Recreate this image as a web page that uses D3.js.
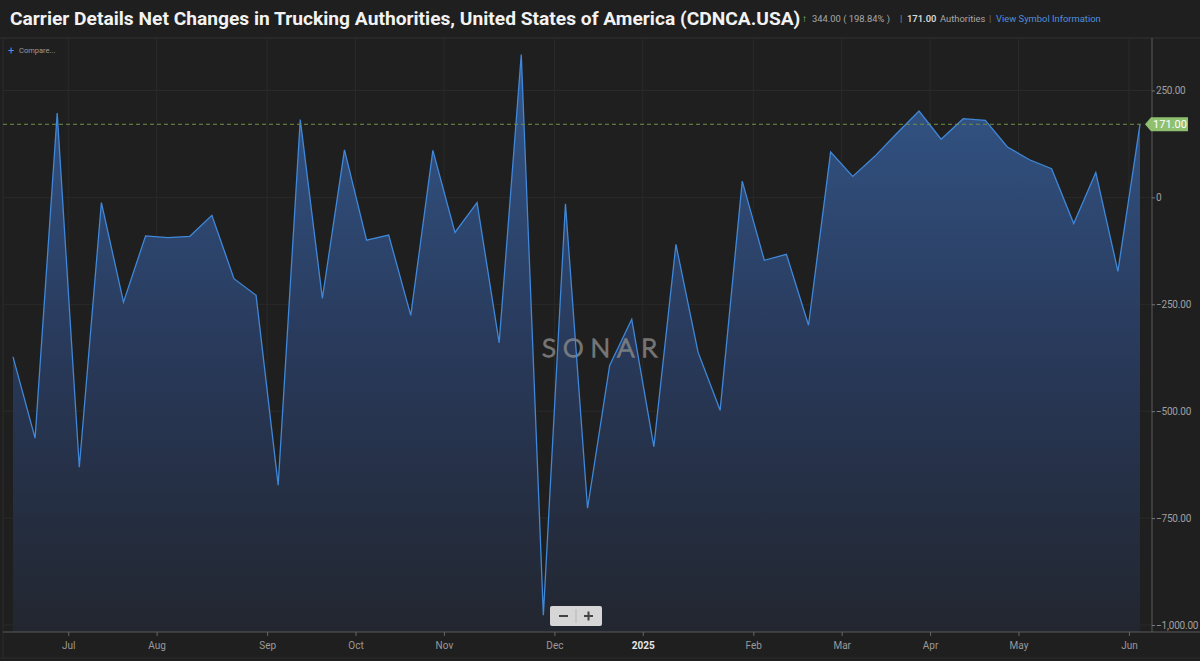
<!DOCTYPE html>
<html>
<head>
<meta charset="utf-8">
<script src="https://cdn.jsdelivr.net/npm/d3@7"></script>
<style>
  html, body { margin: 0; padding: 0; background: #1f1f1f; }
  svg { display: block; }
  text { font-family: Roboto, "Noto Sans", sans-serif; }
</style>
</head>
<body>
<div id="chart"></div>
<script>
const widthChart = 1200;
const heightChart = 661;

// weekly observations (Fridays)
const dates = [
  "2024-06-14", "2024-06-21", "2024-06-28", "2024-07-05", "2024-07-12", "2024-07-19", "2024-07-26",
  "2024-08-02", "2024-08-09", "2024-08-16", "2024-08-23", "2024-08-30", "2024-09-06", "2024-09-13",
  "2024-09-20", "2024-09-27", "2024-10-04", "2024-10-11", "2024-10-18", "2024-10-25", "2024-11-01",
  "2024-11-08", "2024-11-15", "2024-11-22", "2024-11-29", "2024-12-06", "2024-12-13", "2024-12-20",
  "2024-12-27", "2025-01-03", "2025-01-10", "2025-01-17", "2025-01-24", "2025-01-31", "2025-02-07",
  "2025-02-14", "2025-02-21", "2025-02-28", "2025-03-07", "2025-03-14", "2025-03-21", "2025-03-28",
  "2025-04-04", "2025-04-11", "2025-04-18", "2025-04-25", "2025-05-02", "2025-05-09", "2025-05-16",
  "2025-05-23", "2025-05-30", "2025-06-06"
];

// net changes in authorities
const values = [
  -373, -563, 197, -631, -12, -245, -90, -94, -91, -42, -190, -229, -673, 182,
  -236, 111, -100, -88, -276, 110, -82, -12, -340, 334, -977, -15, -727, -393,
  -285, -583, -110, -362, -498, 38, -147, -133, -299, 106, 49, 96, 150, 202,
  136, 184, 180, 118, 88, 67, -61, 58, -173, 171
];

const yTicks = [-1000, -750, -500, -250, 0, 250];

const title = "Carrier Details Net Changes in Trucking Authorities, United States of America (CDNCA.USA)";
const changeText = "344.00 ( 198.84% )";
const lastText = "171.00";
const unitText = "Authorities";
const linkText = "View Symbol Information";

const plotLeft = 3, plotRight = 1152, plotTop = 38, plotBottom = 632;

const parse = d3.timeParse("%Y-%m-%d");
const data = dates.map((d, i) => ({ date: parse(d), value: values[i], i: i }));

const x = d3.scaleLinear()
    .domain([0, data.length - 1])
    .range([13, 1140]);

const y = d3.scaleLinear()
    .domain([-1000, 250])
    .range([625, 90.5]);

// month ticks sit half a step before the first week of each month
var monthTicks = [];
data.forEach((d, i) => {
    if (i > 0 && d.date.getMonth() !== data[i - 1].date.getMonth()) {
        monthTicks.push({ pos: i - 0.5, date: d.date });
    }
});

const svg = d3.select("#chart")
    .append("svg")
    .attr("width", widthChart)
    .attr("height", heightChart);

svg.append("rect")
    .attr("width", widthChart)
    .attr("height", heightChart)
    .attr("fill", "#1f1f1f");

// header
svg.append("text")
    .attr("x", 10)
    .attr("y", 25)
    .attr("fill", "#f2f2f2")
    .style("font-size", "19.2px")
    .style("font-weight", "700")
    .text(title);

const header = svg.append("g").style("font-size", "9.4px");
header.append("text").attr("x", 802).attr("y", 22).attr("fill", "#7ecb6a")
    .style("font-size", "10px").style("font-weight", "700").text("\u2191");
header.append("text").attr("x", 812).attr("y", 22).attr("fill", "#a8a8a8").text(changeText);
header.append("text").attr("x", 900).attr("y", 22).attr("fill", "#8a8a8a").text("|");
header.append("text").attr("x", 907).attr("y", 22).attr("fill", "#d8d8d8")
    .style("font-weight", "600").text(lastText);
header.append("text").attr("x", 940).attr("y", 22).attr("fill", "#a8a8a8").text(unitText);
header.append("text").attr("x", 989).attr("y", 22).attr("fill", "#6a6a6a").text("|");
header.append("text").attr("x", 996).attr("y", 22).attr("fill", "#4f8fdc").text(linkText);

// frame lines
svg.append("line").attr("x1", 0).attr("x2", widthChart).attr("y1", plotTop).attr("y2", plotTop)
    .attr("stroke", "#333");
svg.append("line").attr("x1", plotLeft).attr("x2", plotLeft).attr("y1", plotTop).attr("y2", heightChart - 3)
    .attr("stroke", "#2c2c2c");
svg.append("line").attr("x1", 0).attr("x2", widthChart).attr("y1", heightChart - 3).attr("y2", heightChart - 3)
    .attr("stroke", "#2c2c2c");

// grid
const grid = svg.append("g");
grid.selectAll(".hg")
    .data(yTicks)
    .enter()
    .append("line")
    .attr("x1", plotLeft)
    .attr("x2", plotRight)
    .attr("y1", d => y(d))
    .attr("y2", d => y(d))
    .attr("stroke", "#2a2a2a");
grid.selectAll(".vg")
    .data(monthTicks)
    .enter()
    .append("line")
    .attr("x1", d => x(d.pos))
    .attr("x2", d => x(d.pos))
    .attr("y1", plotTop)
    .attr("y2", plotBottom)
    .attr("stroke", "#2a2a2a");

// area gradient
const defs = svg.append("defs");
const grad = defs.append("linearGradient")
    .attr("id", "areaGrad")
    .attr("gradientUnits", "userSpaceOnUse")
    .attr("x1", 0).attr("x2", 0)
    .attr("y1", plotTop).attr("y2", plotBottom);
grad.append("stop").attr("offset", "0%").attr("stop-color", "#34598d");
grad.append("stop").attr("offset", "55%").attr("stop-color", "#283858");
grad.append("stop").attr("offset", "100%").attr("stop-color", "#22262f");

const area = d3.area()
    .x(d => x(d.i))
    .y0(plotBottom)
    .y1(d => y(d.value));

const line = d3.line()
    .x(d => x(d.i))
    .y(d => y(d.value));

svg.append("path")
    .datum(data)
    .attr("d", area)
    .attr("fill", "url(#areaGrad)");

// watermark
svg.append("text")
    .attr("x", 603)
    .attr("y", 357)
    .attr("text-anchor", "middle")
    .attr("fill", "none")
    .attr("stroke", "#8a8a8a")
    .attr("stroke-width", 1.5)
    .attr("opacity", 0.8)
    .style("font-family", "Lato, sans-serif")
    .style("font-size", "26px")
    .style("font-weight", "300")
    .style("letter-spacing", "7px")
    .text("SONAR");

svg.append("path")
    .datum(data)
    .attr("d", line)
    .attr("fill", "none")
    .attr("stroke", "#3f87d9")
    .attr("stroke-width", 1.3);

// last value dashed line
const last = data[data.length - 1];
svg.append("line")
    .attr("x1", plotLeft)
    .attr("x2", plotRight - 8)
    .attr("y1", y(last.value))
    .attr("y2", y(last.value))
    .attr("stroke", "#718f45")
    .attr("stroke-dasharray", "4,3");

// y axis
svg.append("line")
    .attr("x1", plotRight).attr("x2", plotRight)
    .attr("y1", plotTop).attr("y2", plotBottom)
    .attr("stroke", "#5a5a5a");

const fmt = d3.format(",.2f");
const yAxis = svg.append("g")
    .attr("transform", "translate(" + plotRight + ",0)")
    .call(d3.axisRight(y).tickValues(yTicks).tickSize(3).tickPadding(1)
        .tickFormat(d => d === 0 ? "0" : fmt(d)));
yAxis.select(".domain").remove();
yAxis.selectAll("line").attr("stroke", "#777");
yAxis.selectAll("text")
    .attr("fill", "#a0a0a0")
    .style("font-size", "10px")
    .style("letter-spacing", "-0.2px")
    .style("font-family", "Roboto, sans-serif");

// last value label
const ly = y(last.value);
svg.append("path")
    .attr("d", "M1145," + ly + " L1151," + (ly - 7) + " L1188," + (ly - 7) + " L1188," + (ly + 7) +
        " L1151," + (ly + 7) + " Z")
    .attr("fill", "#8fc070");
svg.append("text")
    .attr("x", 1170)
    .attr("y", ly + 4)
    .attr("text-anchor", "middle")
    .attr("fill", "#ffffff")
    .style("font-size", "11px")
    .text(fmt(last.value));

// x axis
svg.append("line")
    .attr("x1", plotLeft).attr("x2", widthChart)
    .attr("y1", plotBottom).attr("y2", plotBottom)
    .attr("stroke", "#5a5a5a");

const xAxis = svg.append("g")
    .attr("transform", "translate(0," + plotBottom + ")")
    .call(d3.axisBottom(x)
        .tickValues(monthTicks.map(d => d.pos))
        .tickSize(4)
        .tickPadding(6)
        .tickFormat((d, k) => {
            var dt = monthTicks[k].date;
            return dt.getMonth() === 0 ? d3.timeFormat("%Y")(dt) : d3.timeFormat("%b")(dt);
        }));
xAxis.select(".domain").remove();
xAxis.selectAll("line").attr("stroke", "#666");
xAxis.selectAll("text")
    .attr("fill", "#9a9a9a")
    .style("font-size", "10px")
    .style("font-family", "Roboto, sans-serif");
xAxis.selectAll(".tick")
    .filter((d, k) => monthTicks[k].date.getMonth() === 0)
    .select("text")
    .attr("fill", "#e6e6e6")
    .style("font-weight", "700");

// compare control
svg.append("text").attr("x", 8).attr("y", 54).attr("fill", "#4f8fdc")
    .style("font-size", "11px").text("+");
svg.append("text").attr("x", 19).attr("y", 53).attr("fill", "#9a9a9a")
    .style("font-size", "7.5px").text("Compare...");

// zoom control
const zc = svg.append("g").attr("transform", "translate(550,606)");
zc.append("rect").attr("width", 52).attr("height", 20).attr("rx", 2).attr("fill", "#d6d6d6");
zc.append("line").attr("x1", 26).attr("x2", 26).attr("y1", 3).attr("y2", 17).attr("stroke", "#b8b8b8");
zc.append("line").attr("x1", 9).attr("x2", 18).attr("y1", 10).attr("y2", 10)
    .attr("stroke", "#444").attr("stroke-width", 2);
zc.append("line").attr("x1", 34).attr("x2", 43).attr("y1", 10).attr("y2", 10)
    .attr("stroke", "#444").attr("stroke-width", 2);
zc.append("line").attr("x1", 38.5).attr("x2", 38.5).attr("y1", 5.5).attr("y2", 14.5)
    .attr("stroke", "#444").attr("stroke-width", 2);
</script>
</body>
</html>
